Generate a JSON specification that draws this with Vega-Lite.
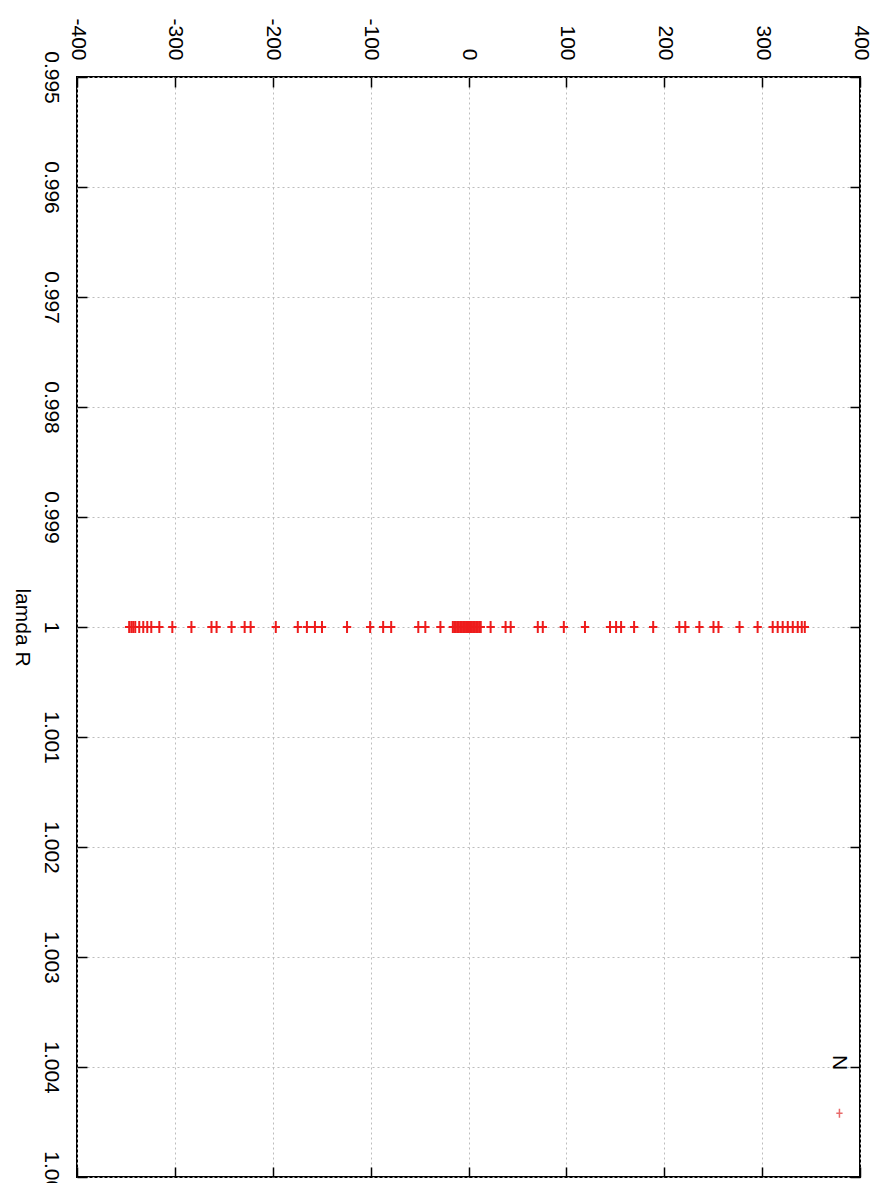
{
  "$schema": "https://vega.github.io/schema/vega-lite/v6.json",
  "width": 783,
  "height": 1100,
  "autosize": {"type": "none"},
  "padding": {"left": 77, "top": 77, "right": 14, "bottom": 6},
  "background": "white",
  "config": {
    "view": {"stroke": "#000", "strokeWidth": 2},
    "font": "Liberation Sans",
    "axis": {"labelFont": "Liberation Sans", "titleFont": "Liberation Sans", "labelColor": "#000", "titleColor": "#000", "tickColor": "#000"}
  },
  "layer": [
    {
      "data": {"values": [
        {"lamda": 1, "N": -346.7}, {"lamda": 1, "N": -344.5}, {"lamda": 1, "N": -342.6}, {"lamda": 1, "N": -340.5},
        {"lamda": 1, "N": -336.4}, {"lamda": 1, "N": -332.3}, {"lamda": 1, "N": -328.2}, {"lamda": 1, "N": -324.1},
        {"lamda": 1, "N": -315.9}, {"lamda": 1, "N": -302.6}, {"lamda": 1, "N": -283.1}, {"lamda": 1, "N": -262.6},
        {"lamda": 1, "N": -257.4}, {"lamda": 1, "N": -242.1}, {"lamda": 1, "N": -228.7}, {"lamda": 1, "N": -222.6},
        {"lamda": 1, "N": -196.9}, {"lamda": 1, "N": -174.4}, {"lamda": 1, "N": -165.1}, {"lamda": 1, "N": -156.9},
        {"lamda": 1, "N": -149.7}, {"lamda": 1, "N": -124.1}, {"lamda": 1, "N": -100.5}, {"lamda": 1, "N": -87.2},
        {"lamda": 1, "N": -79.0}, {"lamda": 1, "N": -51.3}, {"lamda": 1, "N": -44.1}, {"lamda": 1, "N": -28.7},
        {"lamda": 1, "N": -16.0}, {"lamda": 1, "N": -14.5}, {"lamda": 1, "N": -13.0}, {"lamda": 1, "N": -11.5},
        {"lamda": 1, "N": -10.0}, {"lamda": 1, "N": -8.5}, {"lamda": 1, "N": -7.0}, {"lamda": 1, "N": -5.5},
        {"lamda": 1, "N": -4.0}, {"lamda": 1, "N": -2.5}, {"lamda": 1, "N": -1.0}, {"lamda": 1, "N": 0.5},
        {"lamda": 1, "N": 2.0}, {"lamda": 1, "N": 3.5}, {"lamda": 1, "N": 5.0}, {"lamda": 1, "N": 6.5},
        {"lamda": 1, "N": 8.0}, {"lamda": 1, "N": 9.5}, {"lamda": 1, "N": 11.0}, {"lamda": 1, "N": 12.5},
        {"lamda": 1, "N": 22.6}, {"lamda": 1, "N": 37.9}, {"lamda": 1, "N": 43.1}, {"lamda": 1, "N": 70.8},
        {"lamda": 1, "N": 75.9}, {"lamda": 1, "N": 97.4}, {"lamda": 1, "N": 119.0}, {"lamda": 1, "N": 144.6},
        {"lamda": 1, "N": 150.8}, {"lamda": 1, "N": 155.9}, {"lamda": 1, "N": 169.2}, {"lamda": 1, "N": 188.7},
        {"lamda": 1, "N": 215.4}, {"lamda": 1, "N": 221.5}, {"lamda": 1, "N": 235.9}, {"lamda": 1, "N": 250.3},
        {"lamda": 1, "N": 255.4}, {"lamda": 1, "N": 276.9}, {"lamda": 1, "N": 295.4}, {"lamda": 1, "N": 310.8},
        {"lamda": 1, "N": 315.9}, {"lamda": 1, "N": 321.0}, {"lamda": 1, "N": 326.2}, {"lamda": 1, "N": 331.3},
        {"lamda": 1, "N": 336.4}, {"lamda": 1, "N": 340.5}, {"lamda": 1, "N": 343.6}
      ]},
      "mark": {"type": "point", "shape": "M-0.7,0H0.7M0,-1V1", "filled": false, "stroke": "#ee1c1c", "strokeWidth": 2, "size": 144, "opacity": 1},
      "encoding": {
        "x": {
          "field": "N", "type": "quantitative",
          "scale": {"domain": [-400, 400], "nice": false, "zero": false},
          "axis": {
            "orient": "top", "title": null,
            "values": [-400, -300, -200, -100, 0, 100, 200, 300, 400],
            "labelExpr": "'' + datum.value",
            "labelAngle": 90, "labelAlign": "right", "labelBaseline": "middle",
            "labelFontSize": 21, "labelPadding": 27, "labelFlush": false, "labelOverlap": false,
            "tickSize": -10, "tickWidth": 1.5, "domain": false,
            "grid": true, "gridColor": "#bdbdbd", "gridDash": [2, 3], "gridWidth": 1
          }
        },
        "y": {
          "field": "lamda", "type": "quantitative",
          "scale": {"domain": [0.995, 1.005], "reverse": true, "zero": false, "nice": false},
          "axis": {
            "orient": "left", "title": "lamda R",
            "values": [0.995, 0.996, 0.997, 0.998, 0.999, 1, 1.001, 1.002, 1.003, 1.004, 1.005],
            "labelExpr": "format(datum.value, '~g')",
            "labelAngle": 90, "labelAlign": "center", "labelBaseline": "top",
            "labelFontSize": 21, "labelPadding": 26, "labelFlush": false, "labelOverlap": false,
            "tickSize": -10, "tickWidth": 1.5, "domain": false,
            "grid": true, "gridColor": "#bdbdbd", "gridDash": [2, 3], "gridWidth": 1,
            "titleAngle": 90, "titleBaseline": "top", "titleFontSize": 21, "titleFontWeight": "normal", "titlePadding": 8
          }
        }
      }
    },
    {
      "data": {"values": [{"series": "N"}]},
      "mark": {"type": "text", "angle": 90, "fontSize": 21, "align": "center", "baseline": "middle", "color": "#000"},
      "encoding": {
        "x": {"datum": 379, "type": "quantitative",
          "axis": {"orient": "bottom", "title": null, "values": [-400, -300, -200, -100, 0, 100, 200, 300, 400], "labels": false, "tickSize": -10, "tickWidth": 1.5, "domain": false, "grid": false}},
        "y": {"datum": 1.00396, "type": "quantitative",
          "axis": {"orient": "right", "title": null, "values": [0.995, 0.996, 0.997, 0.998, 0.999, 1, 1.001, 1.002, 1.003, 1.004, 1.005], "labels": false, "tickSize": -10, "tickWidth": 1.5, "domain": false, "grid": false}},
        "text": {"field": "series"}
      }
    },
    {
      "data": {"values": [{"series": "N"}]},
      "mark": {"type": "point", "shape": "M-0.7,0H0.7M0,-1V1", "filled": false, "stroke": "#e86a6a", "strokeWidth": 1.5, "size": 81, "opacity": 1},
      "encoding": {
        "x": {"datum": 379, "type": "quantitative", "axis": null},
        "y": {"datum": 1.00442, "type": "quantitative", "axis": null}
      }
    }
  ],
  "resolve": {"axis": {"x": "independent", "y": "independent"}}
}
